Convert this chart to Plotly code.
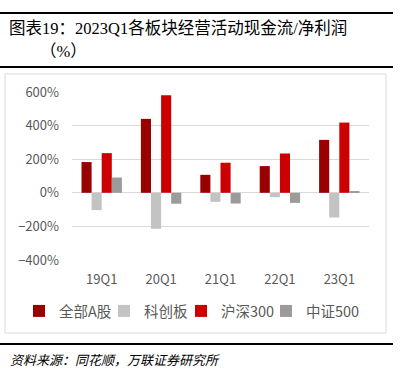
import plotly.graph_objects as go

categories = ["19Q1", "20Q1", "21Q1", "22Q1", "23Q1"]
all_a = [183, 440, 107, 159, 315]
star = [-103, -214, -54, -26, -147]
hs300 = [236, 581, 179, 234, 418]
zz500 = [91, -65, -64, -60, 5]
series_names = ["全部A股", "科创板", "沪深300", "中证500"]
colors = ["#990000", "#C3C3C3", "#CC0000", "#9B9B9B"]
tick_vals = [-400, -200, 0, 200, 400, 600]
tick_text = ["−400%", "−200%", "0%", "200%", "400%", "600%"]

W, H = 412, 374
L, R, T, B = 72, 43, 92, 114
pw, ph = W - L - R, H - T - B

def px(x):
    return (x - L) / pw

def py(y):
    return (H - B - y) / ph

font_cjk = "Noto Sans CJK SC"
font_title = "Liberation Serif, Noto Sans CJK SC"

legend_ids = ["legend", "legend2", "legend3", "legend4"]
legend_px = [19, 104, 181, 266]

fig = go.Figure()
for name, vals, c, lid in zip(series_names, [all_a, star, hs300, zz500], colors, legend_ids):
    fig.add_trace(go.Bar(x=categories, y=vals, name=name, marker_color=c,
                         marker_line_width=0, legend=lid))

legend_layouts = {}
for lid, lx in zip(legend_ids, legend_px):
    legend_layouts[lid] = dict(orientation="h", x=px(lx), xanchor="left",
                               y=py(311), yanchor="middle",
                               font=dict(family=font_cjk, size=14.5, color="#595959"),
                               itemwidth=30, itemclick=False, bgcolor="rgba(0,0,0,0)")

fig.update_layout(
    width=W, height=H,
    margin=dict(l=L, r=R, t=T, b=B, autoexpand=False),
    paper_bgcolor="white", plot_bgcolor="white",
    barmode="group", bargap=0.32, bargroupgap=0,
    showlegend=True,
    xaxis=dict(showgrid=False, showline=False, ticks="", zeroline=False,
               ticklabelstandoff=10,
               tickfont=dict(family=font_cjk, size=13, color="#595959")),
    yaxis=dict(range=[-400, 600], tickvals=tick_vals, ticktext=tick_text,
               showgrid=True, gridcolor="#D9D9D9", gridwidth=1,
               zeroline=True, zerolinecolor="#D9D9D9", zerolinewidth=1,
               showline=False, ticks="", ticklabelstandoff=12,
               tickfont=dict(family=font_cjk, size=13, color="#595959")),
    font=dict(family=font_cjk),
    **legend_layouts,
)

shapes = []
shapes.append(dict(type="rect", xref="paper", yref="paper",
                   x0=px(5), x1=px(386), y0=py(333), y1=py(74),
                   line=dict(color="#D9D9D9", width=1), layer="below"))
for yy in [13, 67, 344]:
    shapes.append(dict(type="line", xref="paper", yref="paper",
                       x0=px(0), x1=px(393), y0=py(yy), y1=py(yy),
                       line=dict(color="black", width=2)))
fig.update_layout(shapes=shapes)

fig.add_annotation(xref="paper", yref="paper", x=px(7), y=py(28), xanchor="left", yanchor="middle",
                   text="图表19：2023Q1各板块经营活动现金流/净利润", showarrow=False,
                   font=dict(family=font_title, size=16.5, color="black"))
fig.add_annotation(xref="paper", yref="paper", x=px(38), y=py(52), xanchor="left", yanchor="middle",
                   text="（%）", showarrow=False,
                   font=dict(family=font_title, size=16.5, color="black"))
fig.add_annotation(xref="paper", yref="paper", x=px(8), y=py(359), xanchor="left", yanchor="middle",
                   text="<i>资料来源：同花顺，万联证券研究所</i>", showarrow=False,
                   font=dict(family=font_cjk, size=13, color="black"))

fig.write_html("out.html", config={"displayModeBar": False},
               post_script="document.body.style.margin='0';document.body.style.padding='0';")
